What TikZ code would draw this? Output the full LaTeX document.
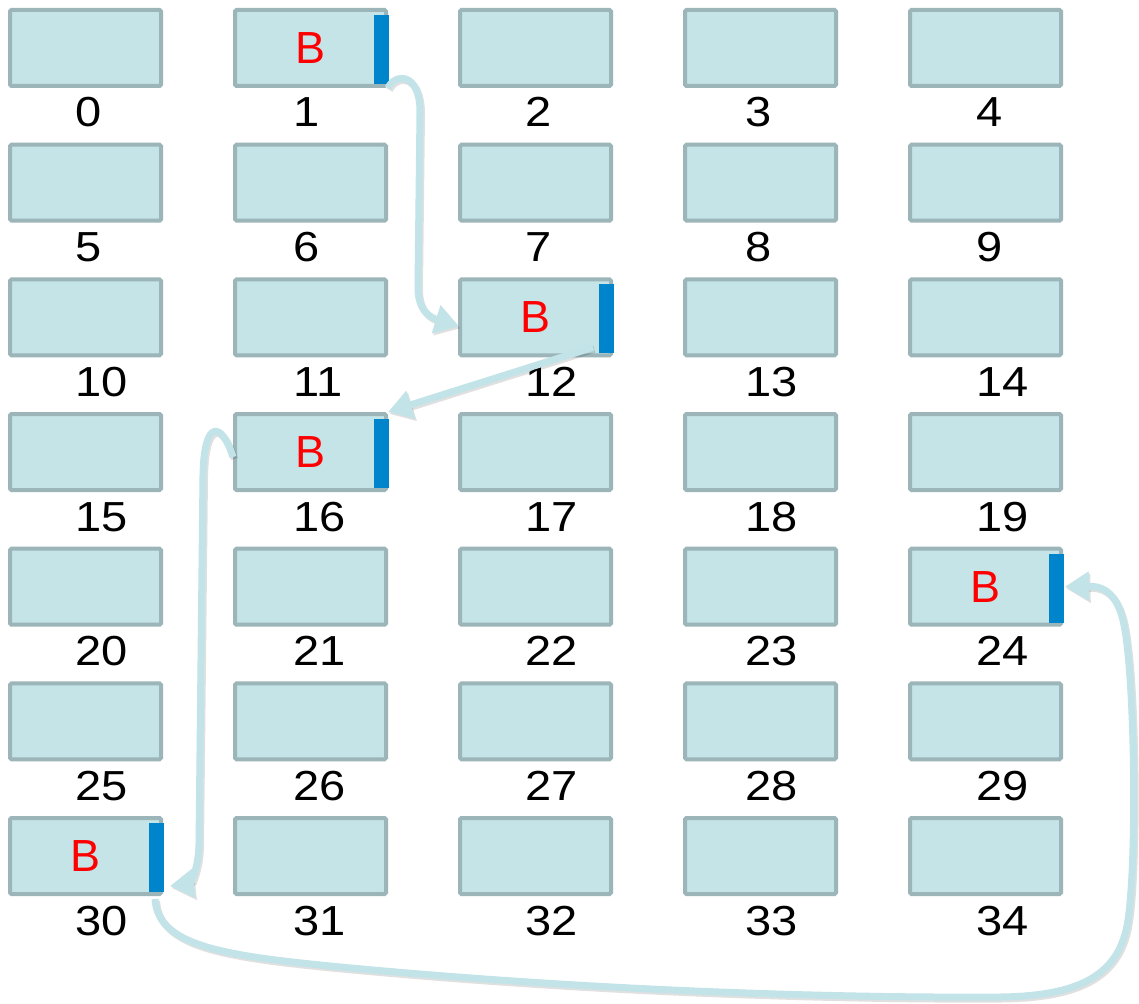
\documentclass[tikz,border=0pt]{standalone}
\usepackage{fontspec}
\setmainfont{Liberation Sans}
\newfontfamily\numfont[FakeStretch=1.12]{Liberation Sans}
\usetikzlibrary{calc,arrows.meta}
\definecolor{boxfill}{HTML}{C4E4E8}
\definecolor{boxline}{HTML}{9CB5B9}
\definecolor{barblue}{HTML}{0084CC}
\definecolor{arrowc}{HTML}{C2E3E7}
\begin{document}
\begin{tikzpicture}[x=1pt,y=-1pt,
  cell/.style={draw=boxline, fill=boxfill, line width=4pt, rounded corners=1.5pt,
    minimum width=151pt, minimum height=76pt, inner sep=0pt,
    font=\fontsize{45}{50}\selectfont, text=red},
  num/.style={anchor=base west, inner sep=0pt, font=\numfont\fontsize{42}{50}\selectfont},
  bar/.style={fill=barblue},
  link/.style={draw=arrowc, line width=7pt, -{Triangle[length=24pt 0 0,width=28pt 0 0]},
    preaction={draw=black, opacity=0.12, line width=7pt,
      transform canvas={shift={(1.5pt,-2pt)}}}}]
\useasboundingbox (0,0) rectangle (1139,1003);
\fill[white] (0,0) rectangle (1139,1003);
\foreach \r in {0,...,6}{
  \foreach \c in {0,...,4}{
    \pgfmathtruncatemacro\n{\r*5+\c}
    \pgfmathsetmacro\cx{85.5+225*\c}
    \pgfmathsetmacro\cy{48+134.67*\r}
    \pgfmathsetmacro\lx{8+225*\c+{67,60.5,67.5,62,68}[\c]}
    \pgfmathsetmacro\ly{\cy+79}
    \pgfmathtruncatemacro\isb{(\n==1)+(\n==12)+(\n==16)+(\n==24)+(\n==30)}
    \ifnum\isb=1
      \node[cell] (b\n) at (\cx,\cy) {B};
      \fill[bar] ($(b\n.north east)+(-14,7)$) rectangle ($(b\n.south east)+(1,-4)$);
    \else
      \node[cell] (b\n) at (\cx,\cy) {};
    \fi
    \node[num] (l\n) at (\lx,\ly) {\n};
  }
}
% 1 -> 12
\draw[link] (b1.south east) .. controls (395,73) and (420,72) .. (420,112)
  -- (418,285) .. controls (417,312) and (432,318) .. ($(b12.west)+(1,9)$);
% 12 -> 16
\draw[link] ($(b12.south east)+(-20,-10)$) -- (b16.north east);
% 16 -> 30
\draw[link] ($(b16.west)+(0,5)$) .. controls (222,422) and (204,418) .. (203,475)
  -- (199,845) .. controls (198,875) and (188,884) .. ($(b30.south east)+(7,-10)$);
% 30 -> 24
\draw[link] ($(b30.south east)+(-8,3)$) .. controls (158,945) and (220,955) .. (330,966)
  .. controls (600,992) and (850,998) .. (1000,997)
  .. controls (1080,996) and (1120,975) .. (1128,920)
  .. controls (1137,860) and (1135,680) .. (1124,625)
  .. controls (1117,588) and (1098,586) .. ($(b24.east)+(2,0)$);
\end{tikzpicture}
\end{document}
